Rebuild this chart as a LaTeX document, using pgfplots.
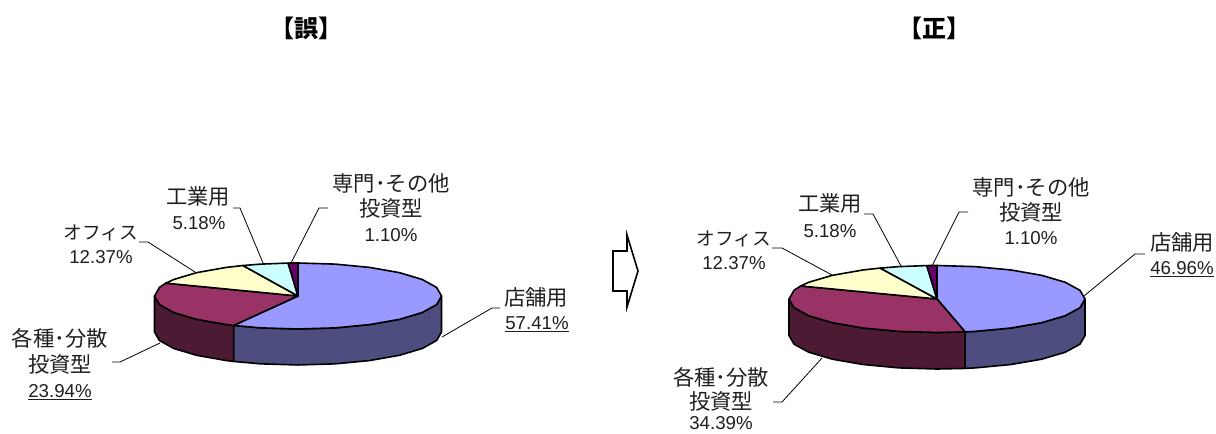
\documentclass[border=0pt]{standalone}
\usepackage{pgfplots}
\pgfplotsset{compat=1.18}
\usepackage{fontspec}
\setmainfont{Liberation Sans}
\newfontfamily\cjk{Noto Sans CJK JP}
\definecolor{shopT}{HTML}{9999FF}
\definecolor{shopS}{HTML}{4D4D80}
\definecolor{divT}{HTML}{993366}
\definecolor{divS}{HTML}{4D1A33}
\definecolor{off}{HTML}{FFFFCC}
\definecolor{ind}{HTML}{CCFFFF}
\definecolor{oth}{HTML}{660066}
\newcommand\lc[3]{\node[anchor=base,inner sep=0pt,text=black!88] at (axis cs:#1,#2+7.5) {\fontsize{16}{18}\selectfont\cjk #3};}
\newcommand\lk[3]{\node[anchor=base,inner sep=0pt,text=black!88] at (axis cs:#1,#2+7.5) {\fontsize{14}{18}\selectfont\cjk #3};}
\newcommand\lv[3]{\node[anchor=base,inner sep=0pt,text=black!88] at (axis cs:#1,#2+6.7) {\fontsize{14}{17}\selectfont #3};}
\pgfplotsset{
  pie/.style={hide axis,scale only axis,xmin=-1,xmax=1,ymin=-1,ymax=1,clip=false,anchor=center},
  sl/.style={draw=black,line width=1.2pt,line join=round,fill=#1,mark=none},
  lead/.style={black,line width=0.6pt,mark=none,no markers}
}
\begin{document}
\begin{tikzpicture}
\path[use as bounding box] (0,0) rectangle (912pt,325.5pt);
% ---------- left pie: 57.41 / 23.94 / 12.37 / 5.18 / 1.10
\begin{axis}[pie,width=215.25pt,height=49.5pt,at={(223.5pt,103.5pt)}]
\addplot[sl=shopS] coordinates {(1,0)(.966,-.259)(.866,-.5)(.707,-.707)(.5,-.866)(.259,-.966)(0,-1)(-.259,-.966)(-.449,-.893)
 (-.449,-1.983)(-.259,-2.056)(0,-2.09)(.259,-2.056)(.5,-1.956)(.707,-1.797)(.866,-1.59)(.966,-1.349)(1,-1.09)} -- cycle;
\addplot[sl=divS] coordinates {(-.449,-.893)(-.5,-.866)(-.707,-.707)(-.866,-.5)(-.966,-.259)(-1,0)
 (-1,-1.09)(-.966,-1.349)(-.866,-1.59)(-.707,-1.797)(-.5,-1.956)(-.449,-1.983)} -- cycle;
\addplot[sl=shopT] coordinates {(0,0)(0,1)(.259,.966)(.5,.866)(.707,.707)(.866,.5)(.966,.259)(1,0)(.966,-.259)(.866,-.5)(.707,-.707)(.5,-.866)(.259,-.966)(0,-1)(-.259,-.966)(-.449,-.893)} -- cycle;
\addplot[sl=divT] coordinates {(0,0)(-.449,-.893)(-.5,-.866)(-.707,-.707)(-.866,-.5)(-.966,-.259)(-1,0)(-.966,.259)(-.921,.389)} -- cycle;
\addplot[sl=off] coordinates {(0,0)(-.921,.389)(-.866,.5)(-.707,.707)(-.5,.866)(-.384,.923)} -- cycle;
\addplot[sl=ind] coordinates {(0,0)(-.384,.923)(-.259,.966)(-.069,.998)} -- cycle;
\addplot[sl=oth] coordinates {(0,0)(-.069,.998)(0,1)} -- cycle;
\end{axis}
% ---------- right pie: 46.96 / 34.39 / 12.37 / 5.18 / 1.10
\begin{axis}[pie,width=222pt,height=50.25pt,at={(702.75pt,101.25pt)}]
\addplot[sl=shopS] coordinates {(1,0)(.966,-.259)(.866,-.5)(.707,-.707)(.5,-.866)(.259,-.966)(.19,-.982)
 (.19,-2.072)(.259,-2.056)(.5,-1.956)(.707,-1.797)(.866,-1.59)(.966,-1.349)(1,-1.09)} -- cycle;
\addplot[sl=divS] coordinates {(.19,-.982)(0,-1)(-.259,-.966)(-.5,-.866)(-.707,-.707)(-.866,-.5)(-.966,-.259)(-1,0)
 (-1,-1.09)(-.966,-1.349)(-.866,-1.59)(-.707,-1.797)(-.5,-1.956)(-.259,-2.056)(0,-2.09)(.19,-2.072)} -- cycle;
\addplot[sl=shopT] coordinates {(0,0)(0,1)(.259,.966)(.5,.866)(.707,.707)(.866,.5)(.966,.259)(1,0)(.966,-.259)(.866,-.5)(.707,-.707)(.5,-.866)(.259,-.966)(.19,-.982)} -- cycle;
\addplot[sl=divT] coordinates {(0,0)(.19,-.982)(0,-1)(-.259,-.966)(-.5,-.866)(-.707,-.707)(-.866,-.5)(-.966,-.259)(-1,0)(-.966,.259)(-.921,.389)} -- cycle;
\addplot[sl=off] coordinates {(0,0)(-.921,.389)(-.866,.5)(-.707,.707)(-.5,.866)(-.384,.923)} -- cycle;
\addplot[sl=ind] coordinates {(0,0)(-.384,.923)(-.259,.966)(-.069,.998)} -- cycle;
\addplot[sl=oth] coordinates {(0,0)(-.069,.998)(0,1)} -- cycle;
\end{axis}
% ---------- page layer in reference pixels
\begin{axis}[hide axis,scale only axis,width=912pt,height=325.5pt,at={(0,0)},anchor=south west,
  xmin=0,xmax=1216,ymin=0,ymax=434,y dir=reverse,clip=false]
\addplot[lead] coordinates {(233,208)(240,208)(263,263)};
\addplot[lead] coordinates {(139,242)(148,242)(195,272)};
\addplot[lead] coordinates {(112,362)(120,362)(160,343)};
\addplot[lead] coordinates {(328,208)(319,208)(291,263)};
\addplot[lead] coordinates {(500,308)(492,308)(442,337)};
\addplot[lead] coordinates {(864,214)(873,214)(901,266)};
\addplot[lead] coordinates {(772,248)(782,248)(832,275)};
\addplot[lead] coordinates {(773,402)(782,402)(822,358)};
\addplot[lead] coordinates {(968,212)(959,212)(932,266)};
\addplot[lead] coordinates {(1145,254)(1135,254)(1084,296)};
\addplot[draw=black,line width=1.2pt,fill=white,mark=none] coordinates {(613,251)(627,251)(627,235)(638,271)(627,307)(627,291)(613,291)} -- cycle;
\node[anchor=base,inner sep=0pt] at (axis cs:306,38) {\fontsize{18}{20}\selectfont\cjk\bfseries 【誤】};
\node[anchor=base,inner sep=0pt] at (axis cs:934,38) {\fontsize{18}{20}\selectfont\cjk\bfseries 【正】};
\lc{198}{197}{工業用}
\lv{199}{223}{5.18\%}
\lk{101}{232}{オフィス}
\lv{101}{257}{12.37\%}
\lc{60}{339}{各種･分散}
\lc{60}{365}{投資型}
\lv{60}{391}{\underline{23.94\%}}
\lc{391}{184}{専門･その他}
\lc{391}{209}{投資型}
\lv{391}{235}{1.10\%}
\lc{536}{298}{店舗用}
\lv{537}{323}{\underline{57.41\%}}
\lc{830}{204}{工業用}
\lv{830}{231}{5.18\%}
\lk{734}{238}{オフィス}
\lv{734}{263}{12.37\%}
\lc{721}{378}{各種･分散}
\lc{721}{402}{投資型}
\lv{721}{423}{34.39\%}
\lc{1031}{188}{専門･その他}
\lc{1031}{213}{投資型}
\lv{1031}{238}{1.10\%}
\lc{1182}{243}{店舗用}
\lv{1182}{268}{\underline{46.96\%}}
\end{axis}
\end{tikzpicture}
\end{document}
